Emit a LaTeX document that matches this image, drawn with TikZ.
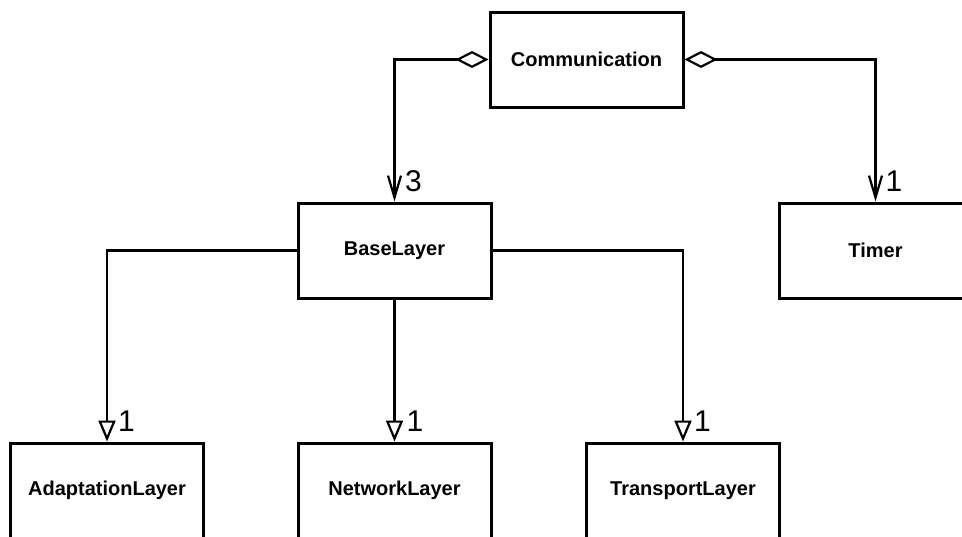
\documentclass[tikz,border=0pt]{standalone}
\usepackage{fontspec}
\setmainfont{Liberation Sans}
\usetikzlibrary{arrows.meta}

\tikzset{
  classbox/.style={draw, line width=3pt, minimum width=193pt, minimum height=95pt,
    inner sep=0pt, font=\bfseries\fontsize{20}{24}\selectfont},
  conn/.style={line width=2.2pt},
  aggregation/.style={conn, {Diamond[open,length=33pt,width=17pt]}-{Straight Barb[length=22pt,width=13pt]}},
  inherit/.style={conn, -{Triangle[open,length=21pt,width=17pt]}},
  mult/.style={anchor=base west, inner sep=0pt, font=\fontsize{30}{36}\selectfont}
}

\begin{document}
\begin{tikzpicture}[x=1pt, y=-1pt]
  \useasboundingbox (0,0) rectangle (962,536);

  % classes
  \node[classbox] (comm)      at (586.5, 59.5)  {Communication};
  \node[classbox] (base)      at (394.5, 250.5) {BaseLayer};
  \node[classbox] (timer)     at (875.5, 250.5) {Timer};
  \node[classbox] (adapt)     at (107,   490.5) {AdaptationLayer};
  \node[classbox] (network)   at (394.5, 490.5) {NetworkLayer};
  \node[classbox] (transport) at (683,   490.5) {TransportLayer};

  % aggregations
  \draw[aggregation] (comm.west) -| (base.north);
  \draw[aggregation] (comm.east) -| (timer.north);

  % layer relations
  \draw[inherit] (base.west) -| (adapt.north);
  \draw[inherit] (base.south) -- (network.north);
  \draw[inherit] (base.east) -| (transport.north);

  % multiplicities
  \node[mult] (m3)  at ([xshift=10.5pt, yshift=10pt]base.north) {3};
  \node[mult] (mt)  at ([xshift=10pt,   yshift=10pt]timer.north) {1};
  \node[mult] (ma)  at ([xshift=11pt,   yshift=10pt]adapt.north) {1};
  \node[mult] (mn)  at ([xshift=12pt,   yshift=10pt]network.north) {1};
  \node[mult] (mtr) at ([xshift=11pt,   yshift=10pt]transport.north) {1};
\end{tikzpicture}
\end{document}
